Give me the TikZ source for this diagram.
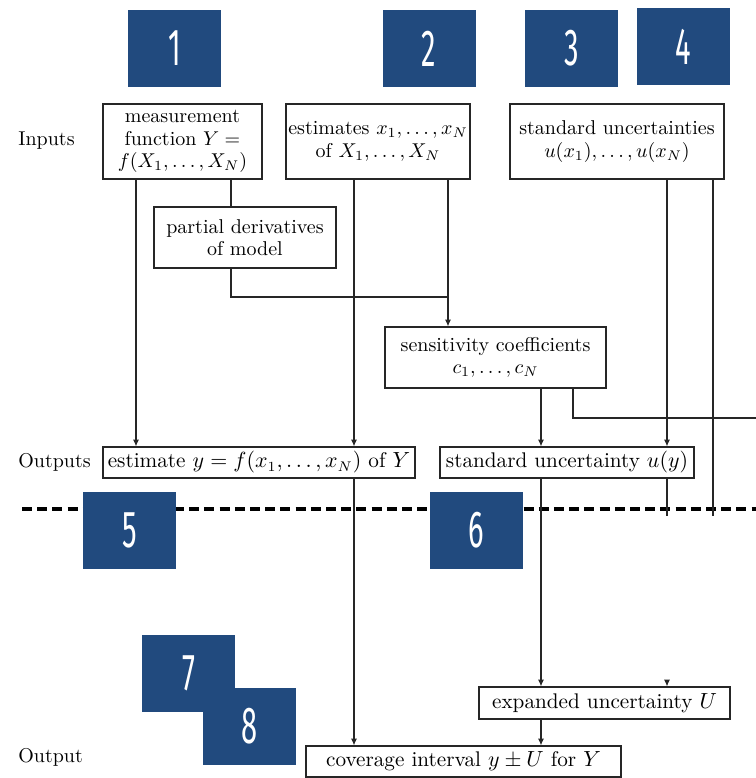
\documentclass[tikz,border=0pt]{standalone}
\usepackage{fontspec}
\usepackage{graphicx}
\newfontfamily\numfont{Fira Sans}
\usetikzlibrary{arrows.meta}
\definecolor{tagblue}{RGB}{33,74,126}
\begin{document}
\begin{tikzpicture}[x=0.5pt,y=-0.5pt,
  every node/.style={font=\fontsize{10}{11.3}\selectfont},
  textbox/.style={draw=black!85, line width=0.55pt, fill=white, align=center, inner sep=0pt},
  onebox/.style={textbox, font=\fontsize{10.6}{12}\selectfont},
  sidelabel/.style={anchor=west, inner sep=0pt},
  conn/.style={draw=black!85, line width=0.55pt},
  arr/.style={conn, -{Latex[length=3.4pt,width=3pt]}},
  tag/.style={fill=tagblue, minimum width=46.5pt, minimum height=38.5pt, inner sep=0pt, text=white,
     font=\numfont\fontsize{26}{26}\selectfont},
  sep/.style={line width=1.6pt, dash pattern=on 5pt off 2.6pt}
]
\useasboundingbox (0,0) rectangle (756,778);

% side labels
\node[sidelabel] (inputs) at (18,141) {Inputs};
\node[sidelabel] (outputs) at (18,462) {Outputs};
\node[sidelabel] (output) at (18,757) {Output};

% separator
\coordinate (sepL) at (22,509);
\coordinate (sepR) at (756,509);
\draw[sep] (sepL) -- (sepR);

% boxes
\node[textbox, minimum width=79.5pt, minimum height=37.5pt] (mf) at (182.5,141.5)
  {measurement\\function $Y=$\\$f(X_1,\ldots,X_N)$};
\node[textbox, minimum width=92pt, minimum height=37.5pt] (ex) at (378,141.5)
  {estimates $x_1,\ldots,x_N$\\of $X_1,\ldots,X_N$};
\node[textbox, minimum width=107pt, minimum height=37.5pt] (su) at (617,141.5)
  {standard uncertainties\\$u(x_1),\ldots,u(x_N)$};
\node[textbox, minimum width=91pt, minimum height=30.5pt] (pd) at (245,237.5)
  {partial derivatives\\of model};
\node[textbox, minimum width=110.5pt, minimum height=30.5pt] (sc) at (495.5,357.5)
  {sensitivity coefficients\\$c_1,\ldots,c_N$};
\node[onebox, minimum width=156pt, minimum height=15.5pt] (est) at (259,462.5)
  {estimate $y=f(x_1,\ldots,x_N)$ of $Y$};
\node[onebox, minimum width=127pt, minimum height=15.5pt] (uy) at (567,462.5)
  {standard uncertainty $u(y)$};
\node[onebox, minimum width=125.5pt, minimum height=16pt] (eu) at (604.5,703)
  {expanded uncertainty $U$};
\node[onebox, minimum width=157.5pt, minimum height=15.5pt] (cov) at (463.5,761.5)
  {coverage interval $y\pm U$ for $Y$};

% connector x positions
\coordinate (xa) at (136,0);
\coordinate (xb) at (231,0);
\coordinate (xc) at (354,0);
\coordinate (xd) at (448,0);
\coordinate (xe) at (541,0);
\coordinate (xf) at (573,0);
\coordinate (xg) at (667,0);
\coordinate (xh) at (713,0);
\coordinate (junction) at (448,297);
\coordinate (edgeR) at (756,418);
\coordinate (endg) at (667,516);
\coordinate (endh) at (713,516);
\coordinate (stub) at (667,681);

% connectors
\draw[arr] (mf.south -| xa) -- (est.north -| xa);
\draw[conn] (mf.south -| xb) -- (pd.north -| xb);
\draw[conn] (pd.south -| xb) |- (junction);
\draw[arr] (ex.south -| xc) -- (est.north -| xc);
\draw[arr] (ex.south -| xd) -- (sc.north -| xd);
\draw[arr] (su.south -| xg) -- (uy.north -| xg);
\draw[conn] (uy.south -| xg) -- (endg);
\draw[conn] (su.south -| xh) -- (endh);
\draw[arr] (sc.south -| xe) -- (uy.north -| xe);
\draw[conn] (sc.south -| xf) |- (edgeR);
\draw[arr] (uy.south -| xe) -- (eu.north -| xe);
\draw[arr] (est.south -| xc) -- (cov.north -| xc);
\draw[arr] (eu.south -| xe) -- (cov.north -| xe);
\draw[arr] (stub) -- (eu.north -| xg);

% numbered tags
\node[tag] (t1) at (174.5,48.5) {\scalebox{0.56}[1]{1}};
\node[tag] (t2) at (429,48.5) {\scalebox{0.56}[1]{2}};
\node[tag] (t3) at (571.5,48.5) {\scalebox{0.56}[1]{3}};
\node[tag] (t4) at (683.5,46.5) {\scalebox{0.56}[1]{4}};
\node[tag] (t5) at (129.5,530) {\scalebox{0.56}[1]{5}};
\node[tag] (t6) at (476,530) {\scalebox{0.56}[1]{6}};
\node[tag] (t7) at (188.5,673.5) {\scalebox{0.56}[1]{7}};
\node[tag] (t8) at (249.5,726.5) {\scalebox{0.56}[1]{8}};
\end{tikzpicture}
\end{document}
